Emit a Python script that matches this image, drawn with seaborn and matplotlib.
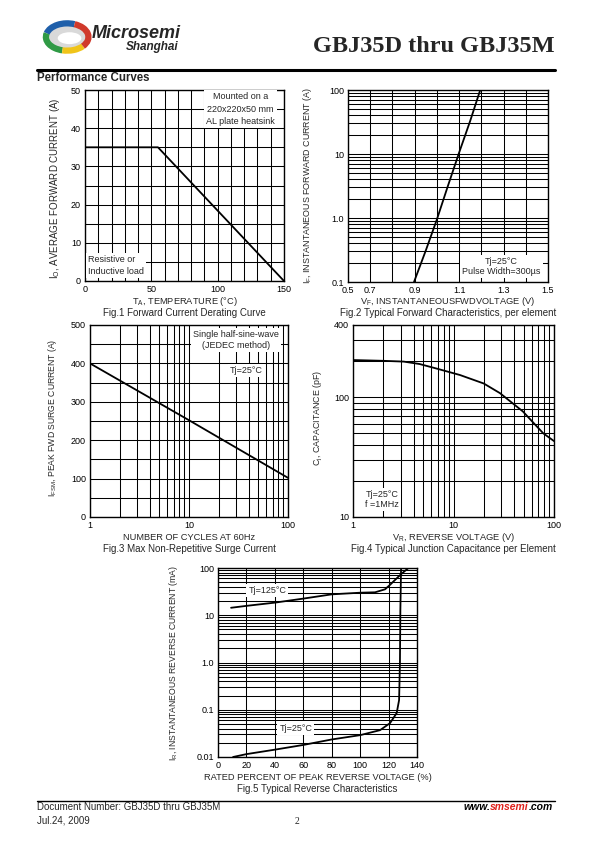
import matplotlib
matplotlib.use("Agg")
import matplotlib.pyplot as plt
import seaborn as sns
from matplotlib.patches import Arc, Ellipse
from matplotlib.ticker import MultipleLocator, LogLocator, NullFormatter, NullLocator

# ---- data ----
# Fig.1 forward current derating
derate_temp = [0, 55, 150]
derate_amps = [35, 35, 0]

# Fig.2 forward characteristics
fwd_volts = [0.897, 0.95, 1.0, 1.05, 1.1, 1.15, 1.195]
fwd_amps = [0.1, 0.31, 0.95, 3.2, 10.5, 33, 100]
fwd_xticks = [0.6, 0.7, 0.9, 1.1, 1.3, 1.5]
fwd_xlabels = ["0.5", "0.7", "0.9", "1.1", "1.3", "1.5"]

# Fig.3 surge current
surge_cycles = [1, 10, 100]
surge_amps = [400, 252, 102]

# Fig.4 junction capacitance
cap_volts = [1.0, 2.0, 3.2, 4.6, 7.0, 11.6, 20, 29, 49, 78, 100]
cap_pf = [204, 201, 198, 189, 172, 153, 130, 108, 76, 50, 43]

# Fig.5 reverse characteristics
rev125_pct = [9.2, 20, 40, 60, 80, 100, 110.5, 117.5, 121, 124.5, 129, 134]
rev125_ma = [14.4, 15.8, 18.5, 22.5, 27.7, 30, 30.6, 35.4, 44, 55.7, 75, 100]
rev25_pct = [10.6, 20, 40, 60, 80, 100, 114, 121, 125.7, 127.4, 128, 128.3, 128.8]
rev25_ma = [0.01, 0.0115, 0.0143, 0.018, 0.0235, 0.029, 0.037, 0.052, 0.085, 0.16, 1.0, 13, 100]

log_yticks = [0.01, 0.1, 1.0, 10, 100]
log_ylabels = ["0.01", "0.1", "1.0", "10", "100"]

sns.set_style("white")
plt.rcParams["font.family"] = ["Liberation Sans", "DejaVu Sans"]
plt.rcParams["mathtext.default"] = "regular"

W, H = 595, 842
fig = plt.figure(figsize=(W / 100, H / 100), dpi=100)

def px_axes(left, top, right, bottom):
    return fig.add_axes([left / W, 1 - bottom / H, (right - left) / W, (bottom - top) / H])

def ptext(x, y, s, **kw):
    kw.setdefault("ha", "center")
    kw.setdefault("va", "center")
    return fig.text(x / W, 1 - y / H, s, **kw)

def style(ax):
    ax.grid(True, which="both", color="black", linewidth=0.75)
    ax.tick_params(which="both", length=0, labelsize=6.5, pad=3, colors="black")
    for s in ax.spines.values():
        s.set_color("black")
        s.set_linewidth(1.0)
    ax.set_xlabel("")
    ax.set_ylabel("")

def box(ax, x, y, s, ha="center", spacing=1.2):
    ax.text(x, y, s, ha=ha, va="center", fontsize=6.5, linespacing=spacing,
            bbox=dict(facecolor="white", edgecolor="none", pad=1.5), zorder=5)

line_kw = dict(color="black", linewidth=1.3, estimator=None, sort=False)

# ---- header ----
logo = fig.add_axes([40 / W, 1 - 56 / H, 52 / W, 38 / H])
logo.set_xlim(-1.1, 1.1)
logo.set_ylim(-0.8, 0.8)
logo.axis("off")
logo.add_patch(Ellipse((0.05, -0.02), 1.7, 1.05, facecolor="#d9d9d9", edgecolor="none"))
logo.add_patch(Ellipse((0.15, -0.05), 1.0, 0.5, facecolor="white", edgecolor="none"))
for t1, t2, c in [(60, 170, "#1f5faa"), (170, 250, "#2f9a45"), (250, 330, "#f0c419"), (330, 420, "#d0392b")]:
    logo.add_patch(Arc((0.05, 0.0), 1.8, 1.15, theta1=t1, theta2=t2, color=c, linewidth=4.5))

ptext(92, 33, "Microsemi", ha="left", fontsize=13, fontweight="bold", style="italic")
ptext(178, 47, "Shanghai", ha="right", fontsize=8.5, fontweight="bold", style="italic")
ptext(555, 47, "GBJ35D thru GBJ35M", ha="right", fontsize=17.5, fontweight="bold",
      family=["Liberation Serif", "DejaVu Serif"])
fig.add_artist(plt.Line2D([37 / W, 555 / W], [1 - 69.5 / H] * 2, color="black", linewidth=2.2))
ptext(37, 78, "Performance Curves", ha="left", fontsize=8.3, fontweight="bold")

# ---- Fig.1 ----
ax1 = px_axes(85, 90, 284, 281)
sns.lineplot(x=derate_temp, y=derate_amps, ax=ax1, **line_kw)
ax1.set_xlim(0, 150)
ax1.set_ylim(0, 50)
ax1.set_xticks([0, 50, 100, 150])
ax1.set_yticks(range(0, 51, 10))
ax1.xaxis.set_minor_locator(MultipleLocator(10))
ax1.yaxis.set_minor_locator(MultipleLocator(5))
style(ax1)
box(ax1, 117, 45, "Mounted on a\n220x220x50 mm\nAL plate heatsink", spacing=1.5)
box(ax1, 2.5, 4.1, "Resistive or\nInductive load", ha="left", spacing=1.4)
ptext(55, 188, "I$_O$, AVERAGE FORWARD CURRENT (A)", rotation=90, fontsize=7)
ptext(184.5, 301.5, "T$_A$, TEMPERATURE (\u00b0C)", fontsize=6.7)
ptext(184.5, 313, "Fig.1 Forward Current Derating Curve", fontsize=7)

# ---- Fig.2 ----
ax2 = px_axes(348, 90, 548, 282)
sns.lineplot(x=fwd_volts, y=fwd_amps, ax=ax2, **line_kw)
ax2.set_yscale("log")
ax2.set_xlim(0.6, 1.5)
ax2.set_ylim(0.1, 100)
ax2.set_xticks(fwd_xticks, fwd_xlabels)
ax2.xaxis.set_minor_locator(MultipleLocator(0.1))
ax2.set_yticks(log_yticks[1:], log_ylabels[1:])
ax2.yaxis.set_minor_locator(LogLocator(base=10, subs=range(2, 10)))
ax2.yaxis.set_minor_formatter(NullFormatter())
style(ax2)
box(ax2, 1.29, 0.175, "Tj=25\u00b0C\nPulse Width=300\u00b5s")
ptext(307, 186, "I$_F$, INSTANTANEOUS FORWARD CURRENT (A)", rotation=90, fontsize=6.4)
ptext(448, 301.5, "V$_F$, INSTANTANEOUSFWDVOLTAGE (V)", fontsize=6.7)
ptext(448, 313, "Fig.2 Typical Forward Characteristics, per element", fontsize=7)

# ---- Fig.3 ----
ax3 = px_axes(90, 325, 288, 517)
sns.lineplot(x=surge_cycles, y=surge_amps, ax=ax3, **line_kw)
ax3.set_xscale("log")
ax3.set_xlim(1, 100)
ax3.set_ylim(0, 500)
ax3.set_xticks([1, 10, 100], ["1", "10", "100"])
ax3.xaxis.set_minor_locator(LogLocator(base=10, subs=range(2, 10)))
ax3.xaxis.set_minor_formatter(NullFormatter())
ax3.set_yticks(range(0, 501, 100))
ax3.yaxis.set_minor_locator(MultipleLocator(50))
style(ax3)
box(ax3, 30, 461, "Single half-sine-wave\n(JEDEC method)")
box(ax3, 38, 381, "Tj=25\u00b0C")
ptext(53, 418, "I$_{FSM}$, PEAK FWD SURGE CURRENT (A)", rotation=90, fontsize=6.2)
ptext(189, 537.5, "NUMBER OF CYCLES AT 60Hz", fontsize=6.7)
ptext(189, 549.5, "Fig.3 Max Non-Repetitive Surge Current", fontsize=7)

# ---- Fig.4 ----
ax4 = px_axes(353, 325, 554, 517)
sns.lineplot(x=cap_volts, y=cap_pf, ax=ax4, **line_kw)
ax4.set_xscale("log")
ax4.set_yscale("log")
ax4.set_xlim(1, 100)
ax4.set_ylim(10, 400)
ax4.set_xticks([1, 10, 100], ["1", "10", "100"])
ax4.xaxis.set_minor_locator(LogLocator(base=10, subs=range(2, 10)))
ax4.xaxis.set_minor_formatter(NullFormatter())
ax4.set_yticks([10, 100, 400], ["10", "100", "400"])
ax4.yaxis.set_minor_locator(LogLocator(base=10, subs=range(2, 10)))
ax4.yaxis.set_minor_formatter(NullFormatter())
style(ax4)
box(ax4, 1.93, 14, "Tj=25\u00b0C\nf =1MHz", spacing=1.05)
ptext(318, 418, "C$_j$, CAPACITANCE (pF)", rotation=90, fontsize=6.4)
ptext(453.5, 537, "V$_R$, REVERSE VOLTAGE (V)", fontsize=6.7)
ptext(453.5, 549, "Fig.4 Typical Junction Capacitance per Element", fontsize=7)

# ---- Fig.5 ----
ax5 = px_axes(218, 568, 417, 757)
sns.lineplot(x=rev125_pct, y=rev125_ma, ax=ax5, **line_kw)
sns.lineplot(x=rev25_pct, y=rev25_ma, ax=ax5, **line_kw)
ax5.set_yscale("log")
ax5.set_xlim(0, 140)
ax5.set_ylim(0.01, 100)
ax5.set_xticks(range(0, 141, 20))
ax5.xaxis.set_minor_locator(NullLocator())
ax5.set_yticks(log_yticks, log_ylabels)
ax5.yaxis.set_minor_locator(LogLocator(base=10, subs=range(2, 10)))
ax5.yaxis.set_minor_formatter(NullFormatter())
style(ax5)
box(ax5, 34.8, 33.4, "Tj=125\u00b0C")
box(ax5, 54.7, 0.041, "Tj=25\u00b0C")
ptext(173, 662.5, "I$_R$, INSTANTANEOUS REVERSE CURRENT (mA)", rotation=90, fontsize=6.2)
ptext(317.5, 777, "RATED PERCENT OF PEAK REVERSE VOLTAGE (%)", fontsize=6.7)
ptext(317.5, 788.5, "Fig.5 Typical Reverse Characteristics", fontsize=7)

# ---- footer ----
fig.add_artist(plt.Line2D([37 / W, 555 / W], [1 - 801 / H] * 2, color="black", linewidth=1.0))
ptext(37, 807.5, "Document Number: GBJ35D thru GBJ35M", ha="left", fontsize=7)
ptext(37, 820.5, "Jul.24, 2009", ha="left", fontsize=7)
ptext(297, 821, "2", fontsize=7, family=["Liberation Serif", "DejaVu Serif"])

renderer = fig.canvas.get_renderer()
right = 553
for part, col in [(".com", "black"), ("smsemi", "#e0201b"), ("www.", "black")]:
    t = ptext(right, 807.5, part, ha="right", fontsize=7.5, fontweight="bold",
              style="italic", color=col)
    right = t.get_window_extent(renderer).x0

fig.savefig("out.png", dpi=100)
